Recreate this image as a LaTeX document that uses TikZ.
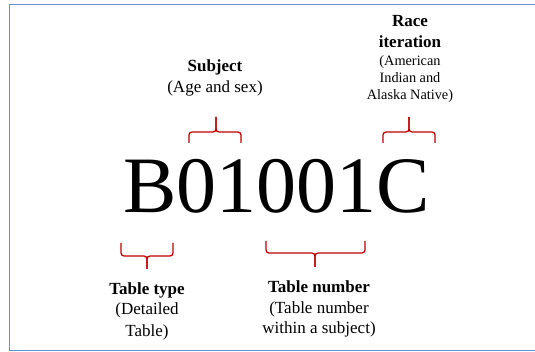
\documentclass[tikz,border=0pt]{standalone}
\usepackage{fontspec}
\setmainfont{Liberation Serif}
\definecolor{framecol}{RGB}{106,143,208}
\definecolor{bracecol}{RGB}{192,0,0}
\begin{document}
\begin{tikzpicture}[x=1pt,y=-1pt,
  lbl/.style={inner sep=0pt,anchor=base,align=center},
  bfont/.style={font=\fontsize{17}{20}\selectfont\bfseries},
  rfont/.style={font=\fontsize{17}{20}\selectfont},
  sfont/.style={font=\fontsize{14.3}{17}\selectfont},
  bracket/.style={draw=bracecol,line width=1.3pt,rounded corners=3pt},
  frame/.style={draw=framecol,line width=1.5pt}]
\useasboundingbox (0,0) rectangle (535,352);
\draw[frame] (537,4.5) -- (9.5,4.5) -- (9.5,350.5) -- (537,350.5);

% main code
\node[inner sep=0pt,anchor=base west,font=\fontsize{80}{82}\selectfont] (code) at (123,213) {B01001C};

% Subject
\node[lbl,bfont] (subj) at (215,72) {Subject};
\node[lbl,rfont] (subjd) at (215,93) {(Age and sex)};

% Race iteration
\node[lbl,bfont] (race1) at (410,27) {Race};
\node[lbl,bfont] (race2) at (410,48) {iteration};
\node[lbl,sfont] (race3) at (410,66) {(American};
\node[lbl,sfont] (race4) at (410,83) {Indian and};
\node[lbl,sfont] (race5) at (410,100) {Alaska Native)};

% Table type
\node[lbl,bfont] (tt1) at (147,295) {Table type};
\node[lbl,rfont] (tt2) at (147,315) {(Detailed};
\node[lbl,rfont] (tt3) at (147,336) {Table)};

% Table number
\node[lbl,bfont] (tn1) at (319,293) {Table number};
\node[lbl,rfont] (tn2) at (319,314) {(Table number};
\node[lbl,rfont] (tn3) at (319,334) {within a subject)};

% brackets: subject
\coordinate (sL) at (189,143); \coordinate (sR) at (241,143);
\coordinate (sM) at (216,132); \coordinate (sT) at (216,117);
\draw[bracket] (sL) |- (sM) -- (sT);
\draw[bracket] (sR) |- (sM) -- (sT);
% race
\coordinate (rL) at (383,143); \coordinate (rR) at (435,143);
\coordinate (rM) at (409,132); \coordinate (rT) at (409,117);
\draw[bracket] (rL) |- (rM) -- (rT);
\draw[bracket] (rR) |- (rM) -- (rT);
% table type
\coordinate (tL) at (121,243); \coordinate (tR) at (173,243);
\coordinate (tM) at (147,256); \coordinate (tB) at (147,269);
\draw[bracket] (tL) |- (tM) -- (tB);
\draw[bracket] (tR) |- (tM) -- (tB);
% table number
\coordinate (nL) at (266,241); \coordinate (nR) at (365,241);
\coordinate (nM) at (315,253); \coordinate (nB) at (315,267);
\draw[bracket] (nL) |- (nM) -- (nB);
\draw[bracket] (nR) |- (nM) -- (nB);
\end{tikzpicture}
\end{document}
